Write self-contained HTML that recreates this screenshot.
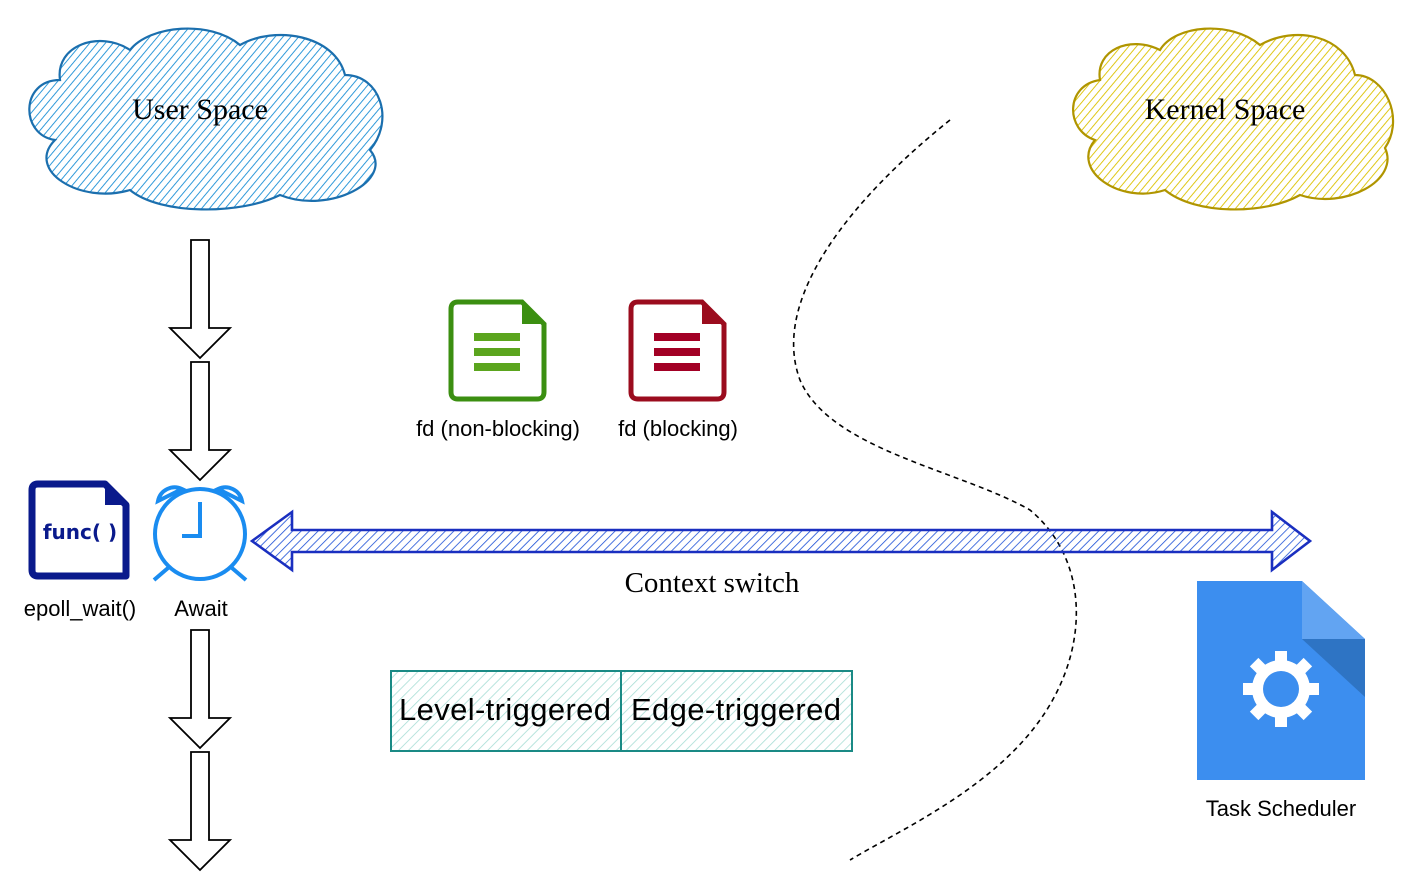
<!DOCTYPE html>
<html><head><meta charset="utf-8"><style>
body{margin:0;background:#fff;}
svg{display:block;}
</style></head><body>
<svg width="1402" height="872" viewBox="0 0 1402 872" xmlns="http://www.w3.org/2000/svg">
<defs>
<pattern id="hb" width="6" height="6" patternUnits="userSpaceOnUse" patternTransform="rotate(40)"><line x1="0" y1="0" x2="0" y2="6" stroke="#1a8fd6" stroke-width="1.8"/></pattern>
<pattern id="hy" width="6" height="6" patternUnits="userSpaceOnUse" patternTransform="rotate(40)"><line x1="0" y1="0" x2="0" y2="6" stroke="#dcc100" stroke-width="1.8"/></pattern>
<pattern id="ht" width="7" height="7" patternUnits="userSpaceOnUse" patternTransform="rotate(45)"><line x1="0" y1="0" x2="0" y2="7" stroke="#a8ddd5" stroke-width="1.6"/></pattern>
<pattern id="hd" width="6" height="6" patternUnits="userSpaceOnUse" patternTransform="rotate(45)"><line x1="0" y1="0" x2="0" y2="6" stroke="#1a4fd6" stroke-width="1.6"/></pattern>
<g id="vdown"><path d="M-9,0 L9,0 L9,88 L30,88 L0,118 L-30,88 L-9,88 Z" fill="#fff" stroke="#000" stroke-width="1.8"/></g>
</defs>
<path d="M60,80 C20,80 20,135 55,140 C25,170 80,205 130,190 C160,215 240,215 280,195 C330,215 395,180 370,150 C395,120 380,75 345,75 C335,35 275,25 240,45 C210,20 150,25 130,50 C100,30 55,45 60,80 Z" fill="url(#hb)" stroke="#1b6fae" stroke-width="2.2"/>
<text x="200" y="119" font-family="Liberation Serif,serif" font-size="30" text-anchor="middle" fill="#000">User Space</text>
<path d="M1100,80 C1065,85 1065,130 1095,140 C1070,170 1120,205 1165,190 C1195,215 1265,215 1300,195 C1345,210 1400,180 1385,148 C1405,118 1385,75 1355,75 C1345,35 1295,25 1260,45 C1230,20 1175,25 1160,50 C1130,35 1095,50 1100,80 Z" fill="url(#hy)" stroke="#b09500" stroke-width="2.2"/>
<text x="1225" y="119" font-family="Liberation Serif,serif" font-size="30" text-anchor="middle" fill="#000">Kernel Space</text>
<path d="M950,120 C850,200 770,300 800,380 C830,450 960,470 1030,510 C1090,560 1090,650 1040,720 C990,790 900,830 850,860" fill="none" stroke="#000" stroke-width="1.6" stroke-dasharray="5,4"/>
<use href="#vdown" x="200" y="240"/>
<use href="#vdown" x="200" y="362"/>
<use href="#vdown" x="200" y="630"/>
<use href="#vdown" x="200" y="752"/>
<path d="M252,541 L292,512 L292,530 L1272,530 L1272,512 L1310,541 L1272,570 L1272,552 L292,552 L292,570 Z" fill="url(#hd)" stroke="#1a2fc0" stroke-width="2.6"/>
<text x="712" y="592" font-family="Liberation Serif,serif" font-size="29" text-anchor="middle" fill="#000">Context switch</text>
<path d="M38,484 L105,484 L126,505 L126,576 L38,576 Q32,576 32,570 L32,490 Q32,484 38,484 Z" fill="#fff" stroke="#0a1a8c" stroke-width="7" stroke-linejoin="round"/>
<path d="M105,484 L105,505 L126,505 Z" fill="#0a1a8c"/>
<text x="80" y="539" font-family="DejaVu Sans,sans-serif" font-weight="bold" font-size="20" text-anchor="middle" fill="#0a1a8c">func( )</text>
<text x="80" y="616" font-family="Liberation Sans,sans-serif" font-size="22" text-anchor="middle" fill="#000">epoll_wait()</text>
<g stroke="#1a8cf0" stroke-width="4" fill="none">
<circle cx="200" cy="534" r="45"/>
<path d="M200,502 L200,536 L182,536"/>
<path d="M158,501 A17,17 0 0 1 182,489 Z"/>
<path d="M242,501 A17,17 0 0 0 218,489 Z"/>
<path d="M168,568 L154,580 M232,568 L246,580"/>
</g>
<text x="201" y="616" font-family="Liberation Sans,sans-serif" font-size="22" text-anchor="middle" fill="#000">Await</text>
<path d="M458,302 L522,302 L544,324 L544,392 Q544,399 537,399 L458,399 Q451,399 451,392 L451,309 Q451,302 458,302 Z" fill="#fff" stroke="#3b8f11" stroke-width="5"/>
<path d="M522,302 L522,324 L544,324 Z" fill="#3b8f11"/>
<g fill="#5ba51e"><rect x="474" y="333" width="46" height="8"/><rect x="474" y="348" width="46" height="8"/><rect x="474" y="363" width="46" height="8"/></g>
<text x="498" y="436" font-family="Liberation Sans,sans-serif" font-size="22" text-anchor="middle" fill="#000">fd (non-blocking)</text>
<path d="M638,302 L702,302 L724,324 L724,392 Q724,399 717,399 L638,399 Q631,399 631,392 L631,309 Q631,302 638,302 Z" fill="#fff" stroke="#9b0c1e" stroke-width="5"/>
<path d="M702,302 L702,324 L724,324 Z" fill="#9b0c1e"/>
<g fill="#a20025"><rect x="654" y="333" width="46" height="8"/><rect x="654" y="348" width="46" height="8"/><rect x="654" y="363" width="46" height="8"/></g>
<text x="678" y="436" font-family="Liberation Sans,sans-serif" font-size="22" text-anchor="middle" fill="#000">fd (blocking)</text>
<rect x="391" y="671" width="461" height="80" fill="url(#ht)" stroke="#1a8a85" stroke-width="2"/>
<line x1="621" y1="671" x2="621" y2="751" stroke="#1a8a85" stroke-width="2"/>
<text x="505" y="720" font-family="Liberation Sans,sans-serif" font-size="31" text-anchor="middle" fill="#000" textLength="212">Level-triggered</text>
<text x="736" y="720" font-family="Liberation Sans,sans-serif" font-size="31" text-anchor="middle" fill="#000" textLength="210">Edge-triggered</text>
<path d="M1197,581 L1302,581 L1365,639 L1365,780 L1197,780 Z" fill="#3c8eef"/>
<path d="M1302,581 L1365,639 L1302,639 Z" fill="#62a4f2"/>
<path d="M1302,639 L1365,639 L1365,697 Z" fill="#2e74c4"/>
<g transform="translate(1281,689)" fill="#fff">
<circle r="29"/>
<g><rect x="-6" y="-38" width="12" height="14"/><rect x="-6" y="-38" width="12" height="14" transform="rotate(45)"/><rect x="-6" y="-38" width="12" height="14" transform="rotate(90)"/><rect x="-6" y="-38" width="12" height="14" transform="rotate(135)"/><rect x="-6" y="-38" width="12" height="14" transform="rotate(180)"/><rect x="-6" y="-38" width="12" height="14" transform="rotate(225)"/><rect x="-6" y="-38" width="12" height="14" transform="rotate(270)"/><rect x="-6" y="-38" width="12" height="14" transform="rotate(315)"/></g>
<circle r="18" fill="#3c8eef"/>
</g>
<text x="1281" y="816" font-family="Liberation Sans,sans-serif" font-size="22" text-anchor="middle" fill="#000">Task Scheduler</text>
</svg>
</body></html>
